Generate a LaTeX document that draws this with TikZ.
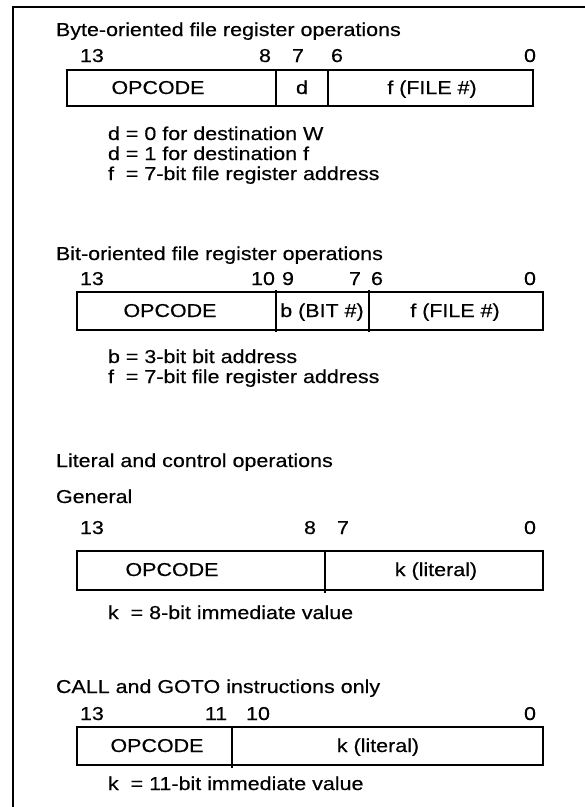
\documentclass[tikz,border=0pt]{standalone}
\usepackage{fontspec}
\setmainfont{Liberation Sans}[FakeStretch=1.15,FakeBold=0.4]
\begin{document}
\begin{tikzpicture}[x=0.75pt,y=-0.75pt,
  font=\fontsize{14}{16}\selectfont,
  line width=1.5pt,
  txt/.style={inner sep=0pt,outer sep=0pt},
  lft/.style={txt,anchor=base west},
  mid/.style={txt,anchor=base}]
\useasboundingbox (0,0) rectangle (585,807);
% frame
\coordinate (ftop) at (585,7);
\coordinate (fcorner) at (13,7);
\coordinate (fbot) at (13,807);
\draw[line width=1.6pt] (ftop) -- (fcorner) -- (fbot);

% ---------- Section 1 ----------
\node[lft] (t1) at (56,36) {Byte-oriented file register operations};
\node[lft] (a13) at (80,62) {13};
\node[mid] (a8) at (265,62) {8};
\node[mid] (a7) at (298,62) {7};
\node[mid] (a6) at (337,62) {6};
\node[mid] (a0) at (530,62) {0};
\coordinate (b1nw) at (67,70);
\coordinate (b1se) at (533,106);
\draw (b1nw) rectangle (b1se);
\coordinate (d1a) at (276,70); \coordinate (d1b) at (276,106);
\coordinate (d2a) at (328,70); \coordinate (d2b) at (328,106);
\draw (d1a) -- (d1b) (d2a) -- (d2b);
\node[mid] (op1) at (158,94) {OPCODE};
\node[mid] (dd1) at (302,94) {d};
\node[mid] (ff1) at (432,94) {f (FILE \#)};
\node[lft] (n11) at (108,140) {d = 0 for destination W};
\node[lft] (n12) at (108,160) {d = 1 for destination f};
\node[lft] (n13) at (108,180) {f\ \ = 7-bit file register address};

% ---------- Section 2 ----------
\node[lft] (t2) at (56,260) {Bit-oriented file register operations};
\node[lft] (c13) at (80,285) {13};
\node[mid] (c10) at (263,285) {10};
\node[mid] (c9) at (288,285) {9};
\node[mid] (c7) at (355,285) {7};
\node[mid] (c6) at (377,285) {6};
\node[mid] (c0) at (530,285) {0};
\coordinate (b2nw) at (77,292);
\coordinate (b2se) at (543,330);
\draw (b2nw) rectangle (b2se);
\coordinate (e1a) at (276,290); \coordinate (e1b) at (276,332);
\coordinate (e2a) at (369,290); \coordinate (e2b) at (369,332);
\draw (e1a) -- (e1b) (e2a) -- (e2b);
\node[mid] (op2) at (170,317) {OPCODE};
\node[mid] (bb2) at (322,317) {b (BIT \#)};
\node[mid] (ff2) at (455,317) {f (FILE \#)};
\node[lft] (n21) at (108,363) {b = 3-bit bit address};
\node[lft] (n22) at (108,383) {f\ \ = 7-bit file register address};

% ---------- Section 3 ----------
\node[lft] (t3) at (56,467) {Literal and control operations};
\node[lft] (t3g) at (56,503) {General};
\node[lft] (g13) at (80,534) {13};
\node[mid] (g8) at (310,534) {8};
\node[mid] (g7) at (343,534) {7};
\node[mid] (g0) at (530,534) {0};
\coordinate (b3nw) at (77,551);
\coordinate (b3se) at (543,590);
\draw (b3nw) rectangle (b3se);
\coordinate (h1a) at (325,551); \coordinate (h1b) at (325,593);
\draw (h1a) -- (h1b);
\node[mid] (op3) at (172,576) {OPCODE};
\node[mid] (kk3) at (436,576) {k (literal)};
\node[lft] (n31) at (108,619) {k\ \ = 8-bit immediate value};

% ---------- Section 4 ----------
\node[lft] (t4) at (56,693) {CALL and GOTO instructions only};
\node[lft] (m13) at (80,720) {13};
\node[mid] (m11) at (216,720) {11};
\node[mid] (m10) at (258,720) {10};
\node[mid] (m0) at (530,720) {0};
\coordinate (b4nw) at (77,727);
\coordinate (b4se) at (543,765);
\draw (b4nw) rectangle (b4se);
\coordinate (i1a) at (232,727); \coordinate (i1b) at (232,768);
\draw (i1a) -- (i1b);
\node[mid] (op4) at (157,752) {OPCODE};
\node[mid] (kk4) at (378,752) {k (literal)};
\node[lft] (n41) at (108,790) {k\ \ = 11-bit immediate value};
\end{tikzpicture}
\end{document}
